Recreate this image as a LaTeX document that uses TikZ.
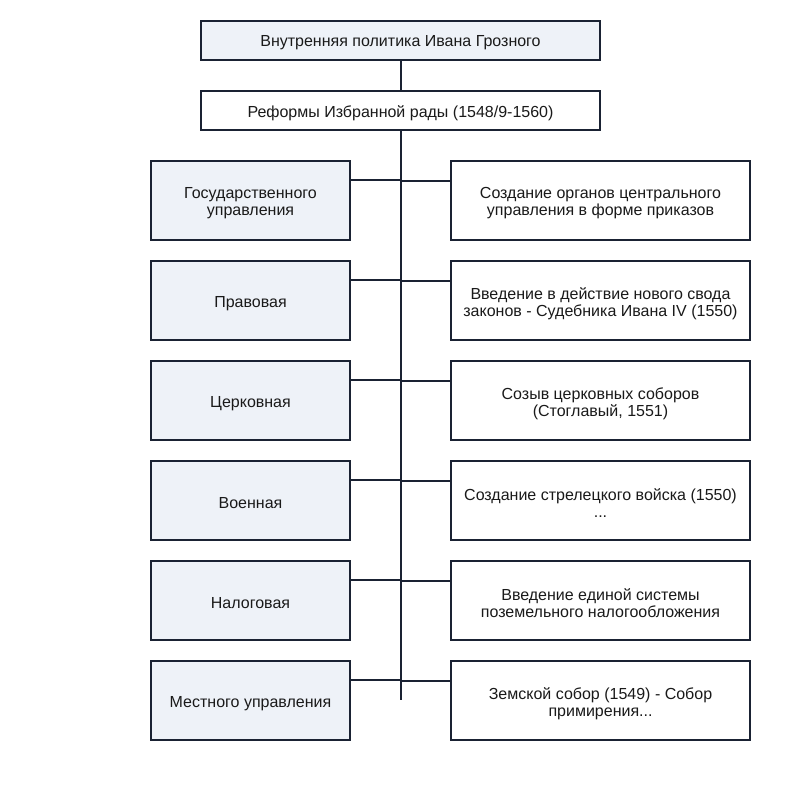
\documentclass[tikz,border=0pt]{standalone}
\usepackage{fontspec}
\setmainfont{Liberation Sans}
\definecolor{edge}{HTML}{1A2233}
\definecolor{lightfill}{HTML}{EEF2F8}
\definecolor{txt}{HTML}{1A1A1A}
\begin{document}
\begin{tikzpicture}[x=1pt,y=1pt,
  box/.style={draw=edge,line width=2pt,inner sep=0pt},
  lbl/.style={align=center,inner sep=0pt,text=txt,font=\fontsize{16}{17}\selectfont},
  headbox/.style={box,fill=lightfill,minimum width=399pt,minimum height=39pt},
  subbox/.style={box,fill=white,minimum width=399pt,minimum height=39pt},
  leftbox/.style={box,fill=lightfill,minimum width=199pt,minimum height=79pt},
  rightbox/.style={box,fill=white,minimum width=299pt,minimum height=79pt},
  link/.style={draw=edge,line width=2pt}]
\useasboundingbox (0,0) rectangle (800,-800);
\fill[white] (0,0) rectangle (800,-800);
\node[headbox] (top) at (400.5,-40.5) {};
\node[lbl] (toptext) at ([yshift=-2.5pt]top.center) {Внутренняя политика Ивана Грозного};
\node[subbox] (sub) at (400.5,-110.5) {};
\node[lbl] (subtext) at ([yshift=-2.5pt]sub.center) {Реформы Избранной рады (1548/9-1560)};
\coordinate (end) at (401,-700);
\draw[link] (top.south -| end) -- (sub.north -| end);
\draw[link] (sub.south -| end) -- (end);
\foreach \i/\lt/\rt in {
  1/{Государственного\\управления}/{Создание органов центрального\\управления в форме приказов},
  2/{Правовая}/{Введение в действие нового свода\\законов - Судебника Ивана IV (1550)},
  3/{Церковная}/{Созыв церковных соборов\\(Стоглавый, 1551)},
  4/{Военная}/{Создание стрелецкого войска (1550)\\...},
  5/{Налоговая}/{Введение единой системы\\поземельного налогообложения},
  6/{Местного управления}/{Земской собор (1549) - Собор\\примирения...}} {
  \pgfmathsetmacro{\yc}{-200-100*(\i-1)}
  \node[leftbox] (L\i) at (250.5,\yc) {};
  \node[rightbox] (R\i) at (600.5,\yc) {};
  \node[lbl] (Lt\i) at ([yshift=-3.5pt]L\i.center) {\lt};
  \node[lbl] (Rt\i) at ([yshift=-3.5pt]R\i.center) {\rt};
  \coordinate (jl\i) at (401,\yc+20);
  \coordinate (jr\i) at (401,\yc+19);
  \draw[link] (jl\i -| L\i.east) -- (jl\i);
  \draw[link] (jr\i) -- (jr\i -| R\i.west);
}
\end{tikzpicture}
\end{document}
